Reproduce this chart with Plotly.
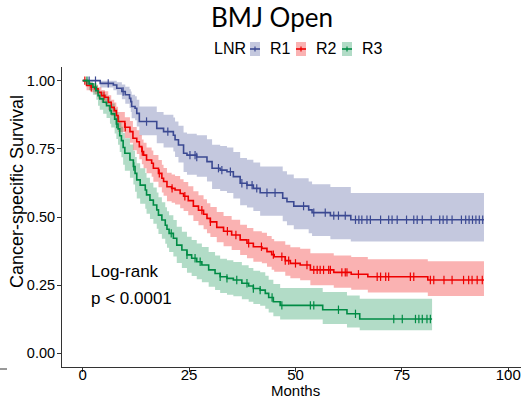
import numpy as np
import plotly.graph_objects as go

# ---------------- data ----------------
groups = ["R1", "R2", "R3"]

r1_time = [0, 4.1, 7.2, 8.0, 9.2, 10.0, 11.0, 11.3, 11.5, 12.3, 12.7, 13.3, 17.4, 19.0, 21.3, 21.7, 22.5,
           23.7, 24.5, 26.8, 29.2, 30.4, 32.3, 33.9, 35.4, 37.0, 38.6, 40.1, 41.7, 47.0, 48.0, 49.6,
           53.1, 53.9, 58.2, 63.0, 94.3]
r1_surv = [1.0, 0.99, 0.984, 0.972, 0.96, 0.948, 0.935, 0.923, 0.905, 0.899, 0.88, 0.85, 0.825, 0.813,
           0.80, 0.783, 0.764, 0.734, 0.727, 0.72, 0.703, 0.679, 0.672, 0.666, 0.648, 0.624, 0.617,
           0.605, 0.589, 0.569, 0.556, 0.540, 0.526, 0.516, 0.505, 0.49, 0.49]
r1_lower = [1.0, 0.975, 0.965, 0.948, 0.932, 0.915, 0.90, 0.885, 0.862, 0.855, 0.832, 0.80, 0.77, 0.755,
            0.74, 0.72, 0.70, 0.665, 0.655, 0.648, 0.63, 0.603, 0.595, 0.588, 0.568, 0.543, 0.535,
            0.522, 0.505, 0.484, 0.47, 0.455, 0.44, 0.43, 0.418, 0.41, 0.41]
r1_upper = [1.0, 1.0, 1.0, 0.994, 0.986, 0.978, 0.968, 0.96, 0.948, 0.943, 0.93, 0.905, 0.885, 0.875,
            0.865, 0.85, 0.835, 0.81, 0.805, 0.80, 0.785, 0.765, 0.76, 0.755, 0.738, 0.716, 0.71,
            0.70, 0.685, 0.668, 0.656, 0.642, 0.63, 0.62, 0.61, 0.588, 0.588]
r1_censor = [1.5, 3, 6, 9.5, 15, 20, 25.2, 26.4, 26.8, 31.9, 32.7, 34.7, 37.4, 38.6, 39.8, 40.9, 43.3,
             45.2, 51.9, 54.3, 57, 59, 60.1, 61.7, 64.1, 64.9, 65.6, 66.8, 67.6, 70, 71.9, 72.7, 73.9,
             76.1, 77.8, 78.6, 79.8, 81.9, 83.9, 84.7, 85.6, 86.8, 89, 90, 90.8, 91.6, 92.4, 93.2, 94]

r2_time = [0, 0.9, 2.0, 2.8, 3.6, 4.4, 5.2, 6.0, 6.7, 7.4, 7.9, 8.3, 9.9, 11.1, 11.8, 12.7, 13.3, 13.9,
           14.3, 15.0, 16.2, 16.6, 17.8, 18.6, 19.0, 19.8, 20.9, 21.7, 22.9, 23.7, 24.8, 26.0, 27.2,
           28.4, 29.2, 30.0, 31.5, 33.1, 35.0, 37.0, 38.6, 40.1, 42.1, 43.3, 44.4, 45.0, 47.6, 48.8,
           51.1, 53.5, 59.0, 63.1, 67.0, 81.1, 94.3]
r2_surv = [1.0, 0.982, 0.976, 0.970, 0.957, 0.945, 0.939, 0.921, 0.902, 0.890, 0.872, 0.850, 0.829,
           0.813, 0.789, 0.776, 0.758, 0.740, 0.727, 0.709, 0.697, 0.679, 0.660, 0.642, 0.630, 0.611,
           0.605, 0.599, 0.586, 0.576, 0.560, 0.540, 0.525, 0.510, 0.495, 0.482, 0.462, 0.448, 0.434,
           0.416, 0.404, 0.391, 0.385, 0.373, 0.362, 0.354, 0.340, 0.330, 0.324, 0.306, 0.297, 0.290,
           0.281, 0.269, 0.269]
r2_lower = [1.0, 0.965, 0.957, 0.95, 0.934, 0.92, 0.913, 0.892, 0.87, 0.857, 0.837, 0.812, 0.79, 0.772,
            0.745, 0.731, 0.712, 0.693, 0.679, 0.66, 0.648, 0.629, 0.609, 0.59, 0.578, 0.558, 0.552,
            0.546, 0.532, 0.522, 0.506, 0.485, 0.47, 0.455, 0.44, 0.427, 0.407, 0.393, 0.379, 0.361,
            0.349, 0.336, 0.33, 0.318, 0.307, 0.299, 0.285, 0.275, 0.268, 0.25, 0.241, 0.233, 0.223,
            0.21, 0.21]
r2_upper = [1.0, 0.995, 0.99, 0.985, 0.976, 0.966, 0.961, 0.946, 0.93, 0.92, 0.904, 0.885, 0.866, 0.852,
            0.83, 0.818, 0.801, 0.784, 0.772, 0.755, 0.744, 0.727, 0.709, 0.692, 0.68, 0.662, 0.656,
            0.65, 0.638, 0.628, 0.613, 0.594, 0.58, 0.565, 0.55, 0.537, 0.518, 0.504, 0.49, 0.472,
            0.46, 0.448, 0.442, 0.43, 0.419, 0.411, 0.398, 0.389, 0.384, 0.367, 0.359, 0.353, 0.345,
            0.338, 0.338]
r2_censor = [0.5, 2, 5, 10, 14, 18, 21, 24, 28, 30, 34, 36, 39, 42, 44.8, 46.8, 47.6, 48.4, 50, 52.7,
             54.3, 55.1, 55.8, 56.6, 57.8, 58.2, 60.9, 61.7, 62.1, 64.8, 69.2, 70, 71.2, 71.9, 77,
             77.8, 81.7, 82.5, 84.9, 86.8, 89.5, 90.7, 91.5, 92.7, 93.9]

r3_time = [0, 1.5, 2.4, 3.2, 3.6, 4.0, 4.8, 5.6, 6.4, 6.7, 7.5, 7.9, 8.3, 8.7, 9.1, 9.5, 9.9, 11.1,
           11.9, 12.3, 12.7, 13.5, 14.7, 15.0, 15.8, 16.6, 17.4, 17.8, 18.6, 19.4, 19.8, 20.3, 21.3,
           22.1, 23.3, 24.5, 25.6, 26.8, 28.0, 29.6, 31.1, 32.3, 33.9, 35.4, 37.4, 39.0, 40.1, 41.7,
           42.9, 43.7, 44.8, 46.4, 56.4, 62.1, 65.1, 82.1]
r3_surv = [1.0, 0.988, 0.976, 0.963, 0.945, 0.933, 0.921, 0.908, 0.890, 0.878, 0.859, 0.841, 0.823,
           0.798, 0.780, 0.755, 0.734, 0.709, 0.685, 0.660, 0.636, 0.617, 0.599, 0.581, 0.562, 0.544,
           0.526, 0.507, 0.489, 0.470, 0.455, 0.440, 0.422, 0.397, 0.379, 0.361, 0.349, 0.336, 0.324,
           0.306, 0.293, 0.281, 0.275, 0.269, 0.257, 0.247, 0.238, 0.232, 0.220, 0.205, 0.189, 0.176,
           0.160, 0.145, 0.126, 0.126]
r3_lower = [1.0, 0.965, 0.948, 0.93, 0.908, 0.893, 0.879, 0.863, 0.842, 0.828, 0.806, 0.786, 0.765,
            0.738, 0.719, 0.692, 0.67, 0.644, 0.619, 0.593, 0.568, 0.549, 0.53, 0.512, 0.493, 0.475,
            0.457, 0.438, 0.42, 0.402, 0.387, 0.372, 0.355, 0.331, 0.313, 0.296, 0.284, 0.272, 0.261,
            0.244, 0.232, 0.221, 0.215, 0.209, 0.198, 0.189, 0.181, 0.175, 0.164, 0.15, 0.136, 0.124,
            0.108, 0.095, 0.085, 0.085]
r3_upper = [1.0, 0.997, 0.99, 0.982, 0.968, 0.959, 0.95, 0.94, 0.926, 0.916, 0.9, 0.885, 0.869, 0.847,
            0.831, 0.808, 0.789, 0.766, 0.743, 0.72, 0.697, 0.679, 0.661, 0.644, 0.626, 0.608, 0.59,
            0.572, 0.554, 0.536, 0.521, 0.506, 0.489, 0.464, 0.446, 0.428, 0.416, 0.403, 0.39, 0.372,
            0.359, 0.347, 0.341, 0.335, 0.323, 0.313, 0.303, 0.297, 0.285, 0.27, 0.254, 0.24, 0.225,
            0.212, 0.2, 0.2]
r3_censor = [1, 3, 8, 12, 20.8, 24.5, 26.4, 27.6, 32.3, 33.9, 36.2, 38.6, 40.1, 41.7, 44.5, 46.8, 53.5,
             54.3, 60.1, 64.1, 73.1, 75.1, 78.2, 79, 79.8, 80.9, 81.7]

x_ticks = [0, 25, 50, 75, 100]
y_ticks = [0.0, 0.25, 0.5, 0.75, 1.0]
y_ticklabels = ["0.00", "0.25", "0.50", "0.75", "1.00"]

# ---------------- styling ----------------
line_colors = {"R1": "#3B4992", "R2": "#EE0000", "R3": "#008B45"}
fill_colors = {"R1": "rgba(59,73,146,0.3)", "R2": "rgba(238,0,0,0.3)", "R3": "rgba(0,139,69,0.3)"}
FONT = "Liberation Sans, Arial, sans-serif"

W, H = 523, 398
L, R, T, B = 62, 2, 67, 31
PW, PH = W - L - R, H - T - B


def px_x(p):
    return (p - L) / PW


def px_y(p):
    return (H - B - p) / PH


data = {
    "R1": (r1_time, r1_surv, r1_lower, r1_upper, r1_censor),
    "R2": (r2_time, r2_surv, r2_lower, r2_upper, r2_censor),
    "R3": (r3_time, r3_surv, r3_lower, r3_upper, r3_censor),
}

fig = go.Figure()

# confidence bands
for g in groups:
    t, s, lo, hi, c = data[g]
    fig.add_trace(go.Scatter(x=t, y=lo, mode="lines", line=dict(width=0, shape="hv"),
                             showlegend=False, hoverinfo="skip"))
    fig.add_trace(go.Scatter(x=t, y=hi, mode="lines", line=dict(width=0, shape="hv"),
                             fill="tonexty", fillcolor=fill_colors[g],
                             showlegend=False, hoverinfo="skip"))

# survival curves + censor marks
for g in groups:
    t, s, lo, hi, c = data[g]
    fig.add_trace(go.Scatter(x=t, y=s, mode="lines",
                             line=dict(color=line_colors[g], width=1.6, shape="hv"),
                             showlegend=False, name=g))
    tt = np.asarray(t)
    ss = np.asarray(s)
    idx = np.searchsorted(tt, np.asarray(c), side="right") - 1
    fig.add_trace(go.Scatter(x=c, y=ss[idx], mode="markers",
                             marker=dict(symbol="line-ns", size=6,
                                         line=dict(color=line_colors[g], width=1.2)),
                             showlegend=False, hoverinfo="skip"))

# ---------------- legend (title + keys) ----------------
fig.add_annotation(x=px_x(212), y=px_y(49), xref="paper", yref="paper", text="LNR",
                   showarrow=False, xanchor="left", yanchor="middle",
                   font=dict(family=FONT, size=16, color="black"))
key_left = {"R1": 250, "R2": 296, "R3": 342}
for g in groups:
    x0 = key_left[g]
    fig.add_shape(type="rect", xref="paper", yref="paper",
                  x0=px_x(x0), x1=px_x(x0 + 10), y0=px_y(56), y1=px_y(42),
                  fillcolor=fill_colors[g], line=dict(width=0))
    fig.add_shape(type="line", xref="paper", yref="paper",
                  x0=px_x(x0), x1=px_x(x0 + 10), y0=px_y(49), y1=px_y(49),
                  line=dict(color=line_colors[g], width=1.6))
    fig.add_shape(type="line", xref="paper", yref="paper",
                  x0=px_x(x0 + 5), x1=px_x(x0 + 5), y0=px_y(46.5), y1=px_y(51.5),
                  line=dict(color=line_colors[g], width=1.2))
    fig.add_annotation(x=px_x(x0 + 18), y=px_y(49), xref="paper", yref="paper", text=g,
                       showarrow=False, xanchor="left", yanchor="middle",
                       font=dict(family=FONT, size=16, color="black"))

# log-rank text
fig.add_annotation(x=1.4, y=0.299, xref="x", yref="y", text="Log-rank", showarrow=False,
                   xanchor="left", yanchor="middle", font=dict(family=FONT, size=17, color="black"))
fig.add_annotation(x=1.4, y=0.2018, xref="x", yref="y", text="p &lt; 0.0001", showarrow=False,
                   xanchor="left", yanchor="middle", font=dict(family=FONT, size=17, color="black"))

# axis titles
fig.add_annotation(x=px_x(295.7), y=px_y(390.5), xref="paper", yref="paper",
                   text="Months", showarrow=False, xanchor="center", yanchor="middle",
                   font=dict(family=FONT, size=15, color="black"))
fig.add_annotation(x=px_x(17), y=px_y(192), xref="paper", yref="paper",
                   text="Cancer-specific Survival", showarrow=False, textangle=-90,
                   xanchor="center", yanchor="middle",
                   font=dict(family=FONT, size=18, color="black"))

# small leftover tick at bottom-left
fig.add_shape(type="line", xref="paper", yref="paper",
              x0=px_x(0), x1=px_x(7), y0=px_y(369), y1=px_y(369),
              line=dict(color="#333333", width=1))

fig.update_layout(
    width=W, height=H,
    margin=dict(l=L, r=R, t=T, b=B),
    paper_bgcolor="white", plot_bgcolor="white",
    showlegend=False,
    title=dict(text="BMJ Open", x=272 / W, xanchor="center", xref="container",
               y=1 - 18 / H, yanchor="middle", yref="container",
               font=dict(family="Lato, Open Sans, sans-serif", size=26, color="black")),
    xaxis=dict(range=[-4.87, 103], tickvals=x_ticks, showgrid=False, zeroline=False,
               showline=True, linecolor="#333333", linewidth=1.1, ticks="outside", ticklen=4,
               tickcolor="#333333", ticklabelstandoff=-10,
               tickfont=dict(family=FONT, size=15, color="black")),
    yaxis=dict(range=[-0.05, 1.05], tickvals=y_ticks, ticktext=y_ticklabels, showgrid=False,
               zeroline=False, showline=True, linecolor="#333333", linewidth=1.1,
               ticks="outside", ticklen=4, tickcolor="#333333", ticklabelstandoff=-1,
               tickfont=dict(family=FONT, size=14.5, color="black")),
)

fig.write_html("out.html")
